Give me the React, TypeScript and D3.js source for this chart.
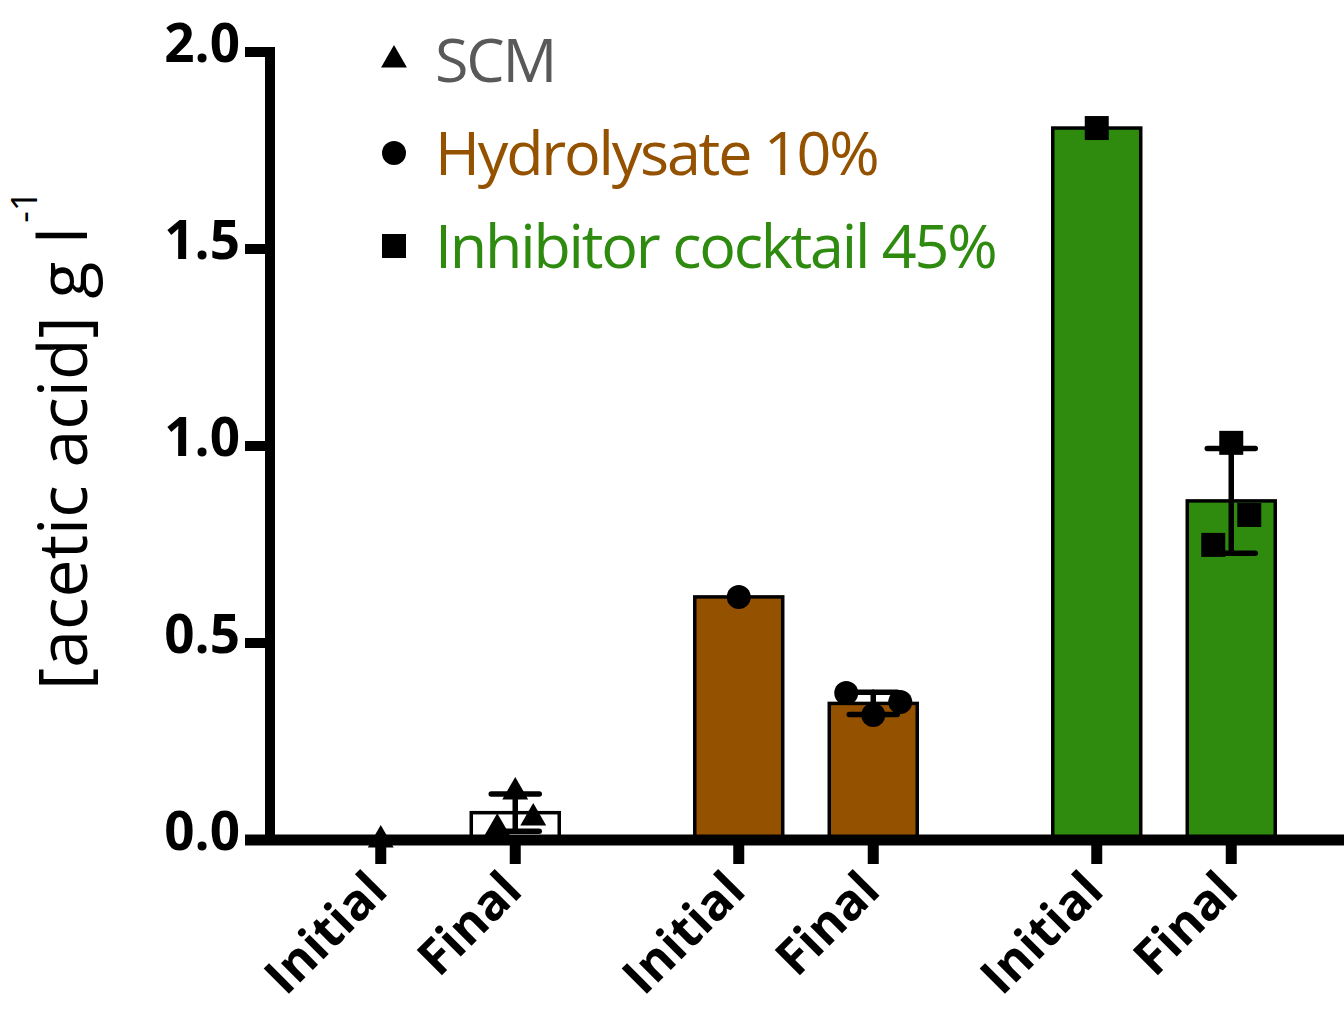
import React from 'react';
import * as d3 from 'd3';

// ---- data ----
const groups = ['SCM', 'Hydrolysate 10%', 'Inhibitor cocktail 45%'];
const phases = ['Initial', 'Final'];
const scmInitial = [0.0];
const scmFinal = [0.122, 0.056, 0.03];
const hydroInitial = [0.617];
const hydroFinal = [0.317, 0.35, 0.373];
const inhibInitial = [1.807];
const inhibFinal = [1.008, 0.825, 0.749];
const yTicks = [0, 0.5, 1.0, 1.5, 2.0];

const seriesValues = [
  [scmInitial, scmFinal],
  [hydroInitial, hydroFinal],
  [inhibInitial, inhibFinal],
];

// ---- style ----
const barFill = ['#ffffff', '#945100', '#2E8B0E'];
const legendColors = ['#595959', '#945100', '#2E8B10'];
const symbols = [d3.symbolTriangle, d3.symbolCircle, d3.symbolSquare];
const symbolSizes = [290, 452, 576];
const spreadStep = [18, 27, 18];
const spreadPattern = [0, 1, -1];
const FONT = '"Open Sans", sans-serif';

const W = 1344;
const H = 1011;

export default function App() {
  const y = d3.scaleLinear().domain([0, 2]).range([840, 52]);
  const xGroup = d3.scalePoint<string>().domain(groups).range([448, 1164]);
  const xInner = d3
    .scaleBand<string>()
    .domain(phases)
    .range([-134.5, 134.5])
    .paddingInner(0.346)
    .paddingOuter(0.173);
  const bw = xInner.bandwidth();
  const axisX = 270;

  const items: any[] = [];
  groups.forEach((g, gi) => {
    phases.forEach((p, pi) => {
      const vals = seriesValues[gi][pi];
      const mean = d3.mean(vals) as number;
      const sd = vals.length > 1 ? (d3.deviation(vals) as number) : 0;
      const x0 = (xGroup(g) as number) + (xInner(p) as number);
      items.push({ g, gi, p, pi, vals, mean, sd, x0, cx: x0 + bw / 2 });
    });
  });

  const sym = (gi: number) =>
    d3.symbol().type(symbols[gi]).size(symbolSizes[gi])() as string;

  return (
    <svg
      width={W}
      height={H}
      style={{ position: 'absolute', left: 0, top: 0, background: '#fff' }}
      fontFamily={FONT}
    >
      {/* bars */}
      {items.map((it, i) => (
        <rect
          key={'b' + i}
          x={it.x0}
          y={y(it.mean)}
          width={bw}
          height={y(0) - y(it.mean)}
          fill={barFill[it.gi]}
          stroke="#000"
          strokeWidth={3.5}
        />
      ))}

      {/* y axis */}
      <line x1={axisX} x2={axisX} y1={y(2) - 5} y2={y(0) + 5} stroke="#000" strokeWidth={10} />
      {yTicks.map((t) => (
        <g key={'yt' + t}>
          <line x1={245} x2={axisX} y1={y(t)} y2={y(t)} stroke="#000" strokeWidth={10} />
          <text
            x={240}
            y={y(t) + 9.5}
            textAnchor="end"
            fontSize={53}
            fontWeight={700}
            fill="#000"
          >
            {t.toFixed(1)}
          </text>
        </g>
      ))}

      {/* x axis */}
      <line x1={245} x2={W} y1={y(0)} y2={y(0)} stroke="#000" strokeWidth={11} />
      {items.map((it, i) => (
        <g key={'xt' + i}>
          <line x1={it.cx} x2={it.cx} y1={y(0)} y2={y(0) + 24} stroke="#000" strokeWidth={11} />
          <text
            transform={`translate(${it.cx + 9},${893}) rotate(-45)`}
            textAnchor="end"
            fontSize={50}
            fontWeight={700}
            fill="#000"
          >
            {it.p}
          </text>
        </g>
      ))}

      {/* error bars */}
      {items
        .filter((it) => it.vals.length > 1)
        .map((it, i) => (
          <g key={'e' + i} stroke="#000" strokeWidth={5.5} strokeLinecap="round">
            <line x1={it.cx} x2={it.cx} y1={y(it.mean + it.sd)} y2={y(it.mean - it.sd)} />
            <line x1={it.cx - 24} x2={it.cx + 24} y1={y(it.mean + it.sd)} y2={y(it.mean + it.sd)} />
            <line x1={it.cx - 24} x2={it.cx + 24} y1={y(it.mean - it.sd)} y2={y(it.mean - it.sd)} />
          </g>
        ))}

      {/* points */}
      {items.map((it, i) =>
        it.vals.map((v: number, k: number) => (
          <path
            key={'p' + i + '-' + k}
            d={sym(it.gi)}
            transform={`translate(${it.cx + spreadPattern[k] * spreadStep[it.gi]},${y(v)})`}
            fill="#000"
          />
        ))
      )}

      {/* legend */}
      {groups.map((g, gi) => (
        <g key={'lg' + gi} transform={`translate(0,${gi * 93})`}>
          <path d={sym(gi)} transform={`translate(${394},${60})`} fill="#000" />
          <text
            x={435}
            y={82}
            fontSize={61}
            letterSpacing={-2.2}
            fill={legendColors[gi]}
          >
            {g}
          </text>
        </g>
      ))}

      {/* y axis title */}
      <text
        transform={`translate(87,690) rotate(-90)`}
        fontSize={68}
        fill="#000"
      >
        [acetic acid] g l
        <tspan dx={4} dy={-50} fontSize={36}>
          -1
        </tspan>
      </text>
    </svg>
  );
}
